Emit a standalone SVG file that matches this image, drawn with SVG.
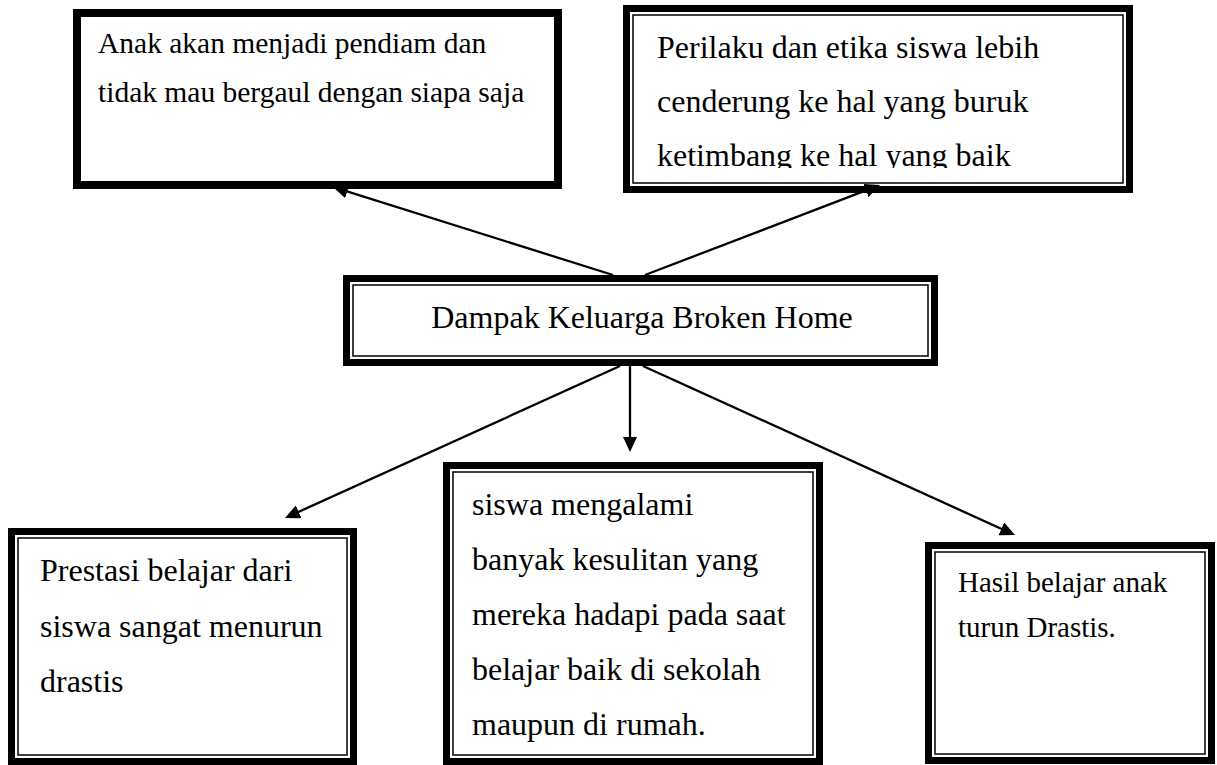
<svg xmlns="http://www.w3.org/2000/svg" width="1217" height="765" viewBox="0 0 1217 765">
<style>
.single{fill:#fff;stroke:#000;stroke-width:8}
.outer{fill:#fff;stroke:#000;stroke-width:7}
.inner{fill:none;stroke:#000;stroke-width:1.5}
text{font-family:"Liberation Serif","Times New Roman",serif;fill:#000}
.t32{font-size:32px}
.t30{font-size:29.5px}
.t29{font-size:29px}
.conn{stroke:#000;stroke-width:2.3;fill:none;marker-end:url(#arrow)}
</style>
<defs>
<marker id="arrow" markerUnits="userSpaceOnUse" markerWidth="15" markerHeight="14" refX="7" refY="7" orient="auto">
<path d="M0,0 L15,7 L0,14 z" fill="#000"/>
</marker>
<clipPath id="clipTR"><rect x="634" y="16" width="488" height="152"/></clipPath>
</defs>
<rect width="1217" height="765" fill="#fff"/>

<g id="node-anak">
<rect class="single" x="77" y="13" width="481" height="172"/>
<text class="t30" x="98" y="53">Anak akan menjadi pendiam dan</text>
<text class="t30" x="98" y="102">tidak mau bergaul dengan siapa saja</text>
</g>

<g id="node-perilaku">
<rect class="outer" x="626.5" y="8.5" width="503" height="181"/>
<rect class="inner" x="633" y="15" width="490" height="168"/>
<g clip-path="url(#clipTR)">
<text class="t32" x="657" y="58">Perilaku dan etika siswa lebih</text>
<text class="t32" x="657" y="112">cenderung ke hal yang buruk</text>
<text class="t32" x="657" y="166">ketimbang ke hal yang baik</text>
</g>
</g>

<g id="node-dampak">
<rect class="outer" x="346.5" y="278.5" width="588" height="84"/>
<rect class="inner" x="353" y="285" width="575" height="71"/>
<text class="t32" x="642" y="328" text-anchor="middle">Dampak Keluarga Broken Home</text>
</g>

<g id="node-prestasi">
<rect class="outer" x="11.5" y="531.5" width="342" height="230"/>
<rect class="inner" x="18" y="538" width="329" height="217"/>
<text class="t32" x="40" y="581">Prestasi belajar dari</text>
<text class="t32" x="40" y="637">siswa sangat menurun</text>
<text class="t32" x="40" y="692">drastis</text>
</g>

<g id="node-kesulitan">
<rect class="outer" x="446.5" y="465.5" width="373" height="296"/>
<rect class="inner" x="453" y="472" width="360" height="283"/>
<text class="t32" x="472" y="515">siswa mengalami</text>
<text class="t32" x="472" y="570">banyak kesulitan yang</text>
<text class="t32" x="472" y="625">mereka hadapi pada saat</text>
<text class="t32" x="472" y="680">belajar baik di sekolah</text>
<text class="t32" x="472" y="735">maupun di rumah.</text>
</g>

<g id="node-hasil">
<rect class="outer" x="928.5" y="545.5" width="283" height="215"/>
<rect class="inner" x="935" y="552" width="270" height="202"/>
<text class="t29" x="958" y="592">Hasil belajar anak</text>
<text class="t29" x="958" y="637">turun Drastis.</text>
</g>

<g id="connectors">
<line class="conn" x1="613" y1="275" x2="340.6" y2="189.4"/>
<line class="conn" x1="645" y1="275" x2="872.5" y2="187.9"/>
<line class="conn" x1="620" y1="366" x2="292.3" y2="514.7"/>
<line class="conn" x1="630" y1="366" x2="630" y2="444"/>
<line class="conn" x1="643" y1="366" x2="1007.7" y2="531.7"/>
</g>
</svg>
